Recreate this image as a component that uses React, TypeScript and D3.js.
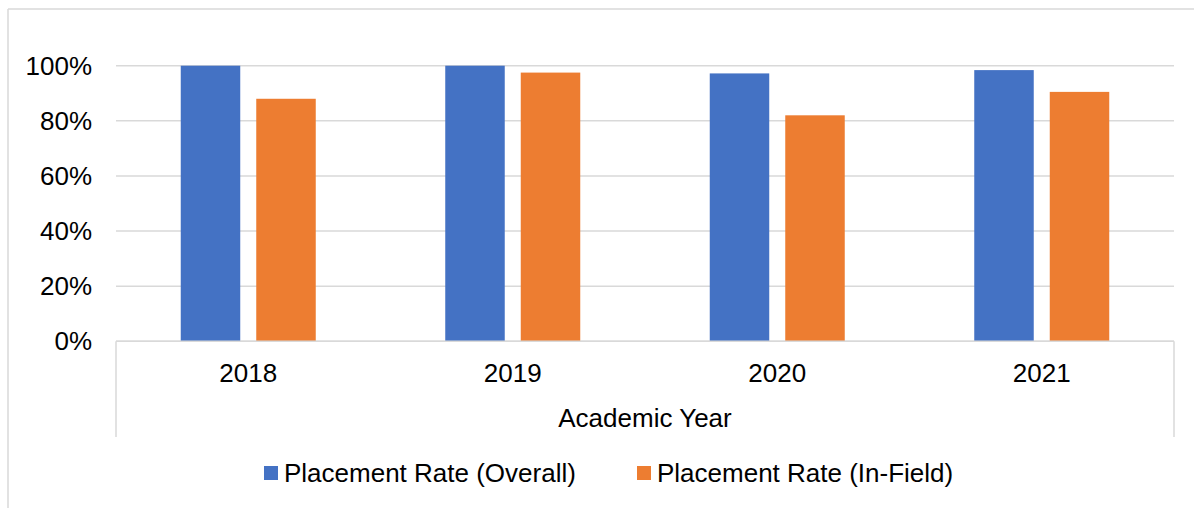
import React from "react";
import * as d3 from "d3";

const categories = ["2018", "2019", "2020", "2021"];
const seriesNames = ["Placement Rate (Overall)", "Placement Rate (In-Field)"];
const overall = [100, 100, 97.2, 98.4];
const inField = [88, 97.5, 82, 90.5];
const yTicks = [0, 20, 40, 60, 80, 100];
const colors = ["#4472C4", "#ED7D31"];
const xTitle = "Academic Year";

const W = 1194;
const H = 508;
const FONT = "'Liberation Sans', Arial, sans-serif";
const GRID = "#d9d9d9";

export default function App() {
  const left = 116, right = 1174, top = 65.7, bottom = 341.3;
  const x0 = d3.scaleBand<string>().domain(categories).range([left, right]).padding(0);
  const groupW = 135;
  const x1 = d3.scaleBand<string>().domain(seriesNames).range([0, groupW]).paddingInner(0.212);
  const y = d3.scaleLinear().domain([0, 100]).range([bottom, top]);
  const series = [overall, inField];

  const legendItems = [
    { name: seriesNames[0], color: colors[0], x: 264 },
    { name: seriesNames[1], color: colors[1], x: 637 },
  ];

  return (
    <div style={{ position: "absolute", left: 0, top: 0 }}>
      <svg width={W} height={H} style={{ display: "block", fontFamily: FONT }}>
        <rect x={0} y={0} width={W} height={H} fill="#fff" />
        {/* outer frame */}
        <line x1={8} x2={W} y1={9} y2={9} stroke={GRID} strokeWidth={1.5} />
        <line x1={8} x2={8} y1={9} y2={H} stroke={GRID} strokeWidth={1.5} />
        {/* gridlines */}
        {yTicks.map((t) => (
          <line key={t} x1={left} x2={right} y1={y(t)} y2={y(t)} stroke={GRID} strokeWidth={1.5} />
        ))}
        {/* category axis box lines */}
        <line x1={left} x2={left} y1={bottom} y2={437} stroke={GRID} strokeWidth={1.5} />
        <line x1={right} x2={right} y1={bottom} y2={437} stroke={GRID} strokeWidth={1.5} />
        {/* y tick labels */}
        {yTicks.map((t) => (
          <text key={t} x={92} y={y(t)} dy="0.35em" textAnchor="end" fontSize={26} fill="#000">
            {t}%
          </text>
        ))}
        {/* bars */}
        {categories.map((c, i) => {
          const cx = (x0(c) as number) + x0.bandwidth() / 2 - groupW / 2;
          return seriesNames.map((s, j) => (
            <rect
              key={c + s}
              x={cx + (x1(s) as number)}
              y={y(series[j][i])}
              width={x1.bandwidth()}
              height={y(0) - y(series[j][i])}
              fill={colors[j]}
            />
          ));
        })}
        {/* redraw baseline over bars */}
        <line x1={left} x2={right} y1={y(0)} y2={y(0)} stroke={GRID} strokeWidth={1.5} />
        {/* category labels */}
        {categories.map((c) => (
          <text key={c} x={(x0(c) as number) + x0.bandwidth() / 2} y={382.3} textAnchor="middle" fontSize={26} fill="#000">
            {c}
          </text>
        ))}
        <text x={(left + right) / 2} y={427.3} textAnchor="middle" fontSize={26} fill="#000">
          {xTitle}
        </text>
        {/* legend */}
        {legendItems.map((it) => (
          <g key={it.name}>
            <rect x={it.x} y={466} width={14} height={14} fill={it.color} />
            <text x={it.x + 20} y={481.5} fontSize={26} fill="#000">
              {it.name}
            </text>
          </g>
        ))}
      </svg>
    </div>
  );
}
